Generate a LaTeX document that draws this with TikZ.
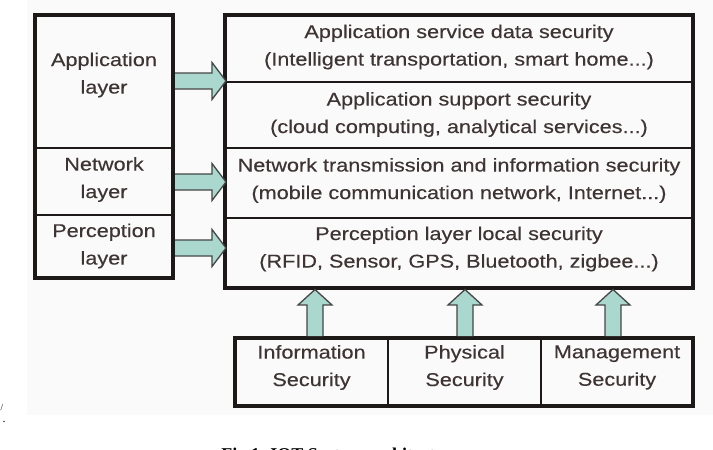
\documentclass[tikz,border=0pt]{standalone}
\usepackage{fontspec}
\setmainfont{Liberation Sans}
\newfontfamily\lblfont[FakeStretch=1.17,FakeBold=0.3]{Liberation Sans}
\newfontfamily\capfont{Liberation Serif}
\definecolor{txt}{RGB}{62,52,52}
\definecolor{arrfill}{RGB}{170,216,206}
\definecolor{arrline}{RGB}{70,70,70}
\definecolor{frame}{RGB}{30,25,25}
\tikzset{
  lbl/.style={text=txt, align=center, font=\lblfont\fontsize{18.5}{27.5}\selectfont, inner sep=0pt},
  outer/.style={draw=frame, line width=3.2pt},
  divider/.style={draw=frame, line width=1.4pt},
  blockarrow/.style={fill=arrfill, draw=arrline, line width=1.3pt, line join=miter},
}
\begin{document}
\begin{tikzpicture}[x=1pt,y=-1pt]
\useasboundingbox (0,0) rectangle (713,450);
\fill[gray!4] (27,0) rectangle (713,415);

% left box
\coordinate (L1) at (35,15);
\coordinate (L2) at (173,278);
\draw[divider] (35,148) -- (173,148);
\draw[divider] (35,215) -- (173,215);
\draw[outer] (L1) rectangle (L2);
\node[lbl] (la) at (104,75) {Application\\layer};
\node[lbl] (ln) at (104,179.5) {Network\\layer};
\node[lbl] (lp) at (104,246) {Perception\\layer};

% right box
\coordinate (R1) at (225,15);
\coordinate (R2) at (693,288);
\draw[divider] (225,82) -- (693,82);
\draw[divider] (225,148) -- (693,148);
\draw[divider] (225,218) -- (693,218);
\draw[outer] (R1) rectangle (R2);
\node[lbl] (r1) at (459,47) {Application service data security\\(Intelligent transportation, smart home...)};
\node[lbl] (r2) at (459,114.5) {Application support security\\(cloud computing, analytical services...)};
\node[lbl] (r3) at (459,180.5) {Network transmission and information security\\(mobile communication network, Internet...)};
\node[lbl] (r4) at (459,249) {Perception layer local security\\(RFID, Sensor, GPS, Bluetooth, zigbee...)};

% bottom box
\coordinate (B1) at (235,338);
\coordinate (B2) at (693,406);
\draw[divider] (388,338) -- (388,406);
\draw[divider] (541,338) -- (541,406);
\draw[outer] (B1) rectangle (B2);
\node[lbl] (b1) at (311.5,367.5) {Information\\Security};
\node[lbl] (b2) at (464.5,367.5) {Physical\\Security};
\node[lbl] (b3) at (617,367.5) {Management\\Security};

% horizontal block arrows
\foreach \yy in {81,182,248}{
  \draw[blockarrow] (175,\yy-8) -- (212,\yy-8) -- (212,\yy-18.5) -- (226,\yy)
    -- (212,\yy+18.5) -- (212,\yy+8) -- (175,\yy+8);
}
% vertical block arrows
\foreach \xx in {315,465,613}{
  \draw[blockarrow] (\xx-8,336) -- (\xx-8,305) -- (\xx-17,305) -- (\xx,289.5)
    -- (\xx+17,305) -- (\xx+8,305) -- (\xx+8,336);
}

% caption (cut off by page edge, as in the reference)
\node[anchor=base, font=\capfont\bfseries\fontsize{18}{20}\selectfont, inner sep=0pt] (cap) at (341,460) {Fig 1. IOT System architecture};
% stray marks at left edge
\node[font=\capfont\fontsize{9}{10}\selectfont, inner sep=0pt] (m1) at (2,408) {/};
\node[font=\capfont\fontsize{12}{12}\selectfont, inner sep=0pt] (m2) at (4,422) {.};
\end{tikzpicture}
\end{document}
